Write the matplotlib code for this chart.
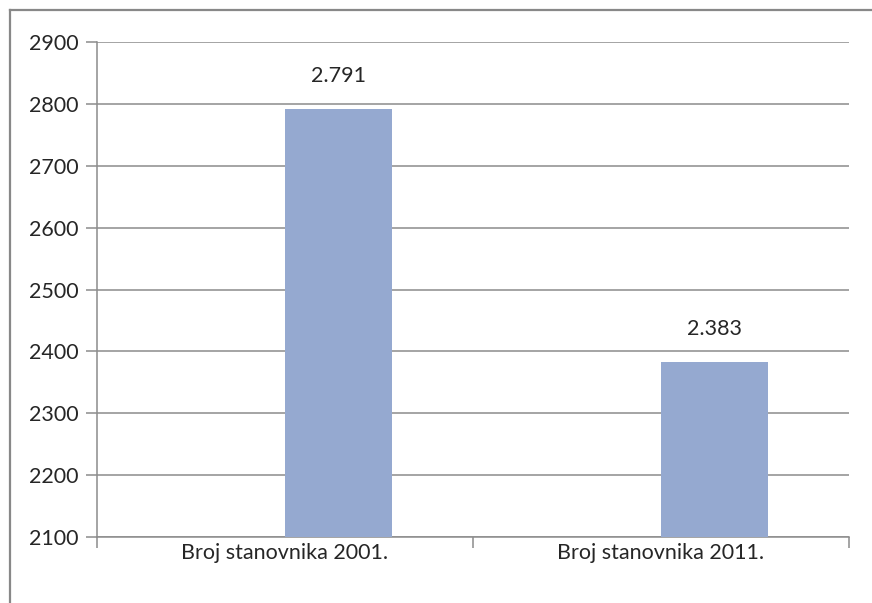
import matplotlib.pyplot as plt
from matplotlib.lines import Line2D

# data
categories = ['Broj stanovnika 2001.', 'Broj stanovnika 2011.']
values = [2791, 2383]
value_labels = ['2.791', '2.383']
y_ticks = [2100, 2200, 2300, 2400, 2500, 2600, 2700, 2800, 2900]

plt.rcParams['font.family'] = ['Lato', 'DejaVu Sans']

fig = plt.figure(figsize=(8.72, 6.03), dpi=100)
ax = fig.add_axes([97/872, 1 - 537/603, (849 - 97)/872, (537 - 42)/603])

grid_col = '#8c8c8c'
bar_col = '#95a9d0'
txt_col = '#262626'
fs = 15.5

x = list(range(len(categories)))
ax.bar(x, [v - y_ticks[0] for v in values], bottom=y_ticks[0], width=0.285,
       align='edge', color=bar_col, zorder=3)

for xi, v, lab in zip(x, values, value_labels):
    ax.annotate(lab, (xi + 0.1425, v), xytext=(0, 24), textcoords='offset points',
                ha='center', va='center', fontsize=fs, color=txt_col)

ax.set_xlim(-0.5, len(categories) - 0.5)
ax.set_ylim(y_ticks[0], y_ticks[-1])
ax.set_yticks(y_ticks)
ax.set_yticklabels([str(t) for t in y_ticks], fontsize=fs, color=txt_col)
ax.yaxis.grid(True, color=grid_col, lw=1.1, zorder=0)

# category labels at centers, tick marks at boundaries
ax.set_xticks(x)
ax.set_xticklabels(categories, fontsize=fs, color=txt_col)
ax.tick_params(axis='x', length=0, pad=4)
ax.set_xticks([-0.5, 0.5, 1.5], minor=True)
ax.tick_params(axis='x', which='minor', length=8, color=grid_col, width=1.1)
ax.tick_params(axis='y', length=8, color=grid_col, width=1.1, pad=5)

for s in ['top', 'right']:
    ax.spines[s].set_visible(False)
for s in ['left', 'bottom']:
    ax.spines[s].set_color(grid_col)
    ax.spines[s].set_linewidth(1.1)

# outer chart border
fig.add_artist(Line2D([10/872, 1], [1 - 10/603, 1 - 10/603], color='#888888', lw=1.6))
fig.add_artist(Line2D([10/872, 10/872], [0, 1 - 10/603], color='#888888', lw=1.6))

fig.savefig('out.png', dpi=100)
